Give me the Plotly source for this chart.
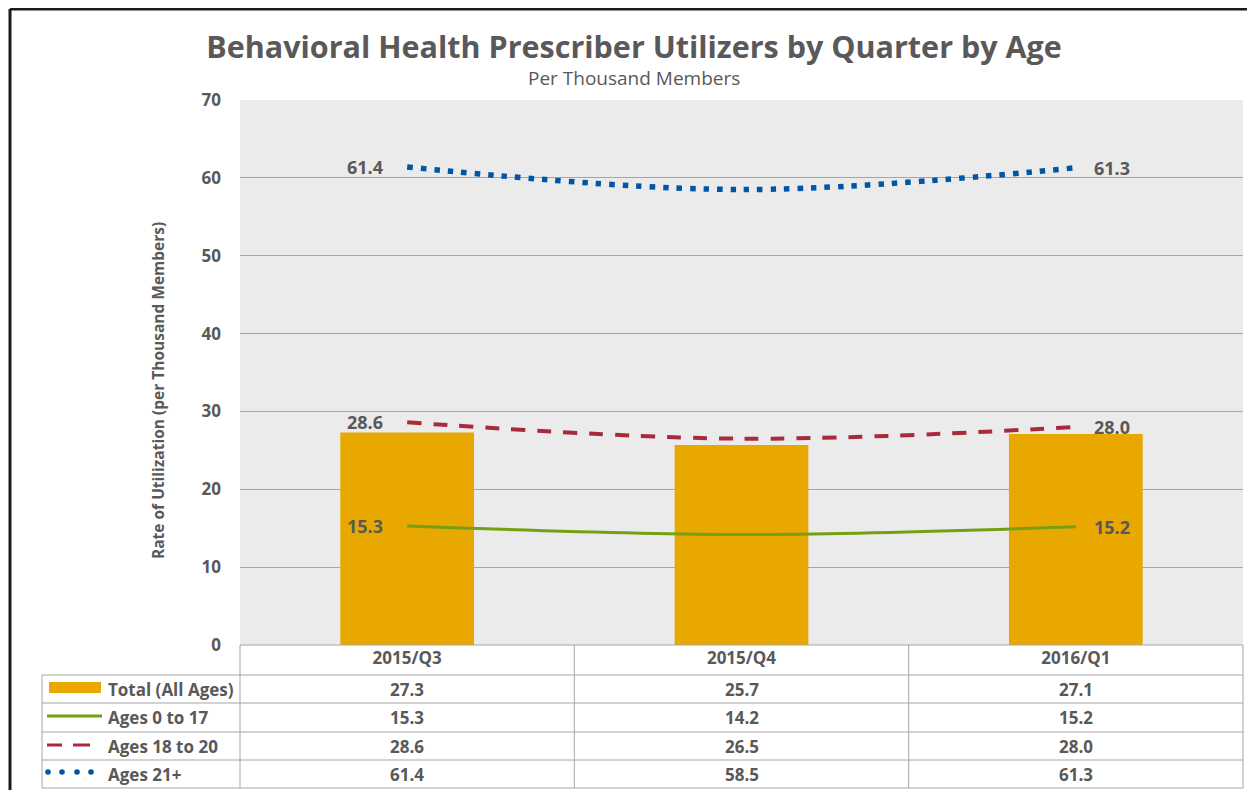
import plotly.graph_objects as go

categories = ["2015/Q3", "2015/Q4", "2016/Q1"]
total_all = [27.3, 25.7, 27.1]
ages_0_17 = [15.3, 14.2, 15.2]
ages_18_20 = [28.6, 26.5, 28.0]
ages_21p = [61.4, 58.5, 61.3]
series_names = ["Total (All Ages)", "Ages 0 to 17", "Ages 18 to 20", "Ages 21+"]
y_ticks = [0, 10, 20, 30, 40, 50, 60, 70]

OFF = 8  # page body margin
W, H = 1255 - OFF, 790 - OFF
L, R, T, B = 240 - OFF, 12, 100 - OFF, 145
PW, PH = W - L - R, H - T - B

def px(x):
    return (x - OFF - L) / PW

def py(y):
    return (H - B - (y - OFF)) / PH

FONT = "Open Sans"
GRAY = "#595959"
C_BAR = "#E8A800"
C_GREEN = "#76A013"
C_RED = "#A82A3B"
C_BLUE = "#0055A5"

fig = go.Figure()
fig.add_trace(go.Bar(x=categories, y=total_all, name=series_names[0],
                     marker=dict(color=C_BAR, line=dict(width=0)), width=0.4))

line_series = [
    (ages_0_17, series_names[1], C_GREEN, "solid", 3),
    (ages_18_20, series_names[2], C_RED, "14px,12px", 4),
    (ages_21p, series_names[3], C_BLUE, "5.5px,8px", 5.5),
]
annotations = []
for vals, name, color, dash, width in line_series:
    fig.add_trace(go.Scatter(
        x=categories, y=vals, name=name, mode="lines",
        line=dict(color=color, dash=dash, width=width, shape="spline", smoothing=1),
    ))
    annotations.append(dict(xref="x", yref="y", x=categories[0], y=vals[0],
                            xanchor="right", yanchor="middle", xshift=-22, showarrow=False,
                            text=f"{vals[0]:.1f}",
                            font=dict(family=FONT, size=18, color=GRAY, weight="bold")))
    annotations.append(dict(xref="x", yref="y", x=categories[-1], y=vals[-1],
                            xanchor="left", yanchor="middle", xshift=16, showarrow=False,
                            text=f"{vals[-1]:.1f}",
                            font=dict(family=FONT, size=18, color=GRAY, weight="bold")))

shapes = []
line_c = "#A6A6A6"
for yy in [675, 703, 732, 760, 788]:
    shapes.append(dict(type="line", xref="paper", yref="paper", x0=px(42), x1=1,
                       y0=py(yy), y1=py(yy), line=dict(color=line_c, width=1)))
shapes.append(dict(type="line", xref="paper", yref="paper", x0=0, x1=1,
                   y0=0, y1=0, line=dict(color=line_c, width=1)))
for xx in [0, 1 / 3, 2 / 3, 1]:
    shapes.append(dict(type="line", xref="paper", yref="paper", x0=xx, x1=xx,
                       y0=0, y1=py(788), line=dict(color=line_c, width=1)))
shapes.append(dict(type="line", xref="paper", yref="paper", x0=px(42), x1=px(42),
                   y0=py(675), y1=py(788), line=dict(color=line_c, width=1)))
# legend keys
shapes.append(dict(type="rect", xref="paper", yref="paper", x0=px(49), x1=px(101),
                   y0=py(693), y1=py(682), fillcolor=C_BAR, line=dict(width=0)))
shapes.append(dict(type="line", xref="paper", yref="paper", x0=px(47), x1=px(102),
                   y0=py(716), y1=py(716), line=dict(color=C_GREEN, width=3)))
for a, b in [(47, 62), (73, 90)]:
    shapes.append(dict(type="line", xref="paper", yref="paper", x0=px(a), x1=px(b),
                       y0=py(745), y1=py(745), line=dict(color=C_RED, width=3)))
for cx in [48, 62, 77, 91]:
    shapes.append(dict(type="circle", xref="paper", yref="paper",
                       x0=px(cx - 2.8), x1=px(cx + 2.8), y0=py(774.8), y1=py(769.2),
                       fillcolor=C_BLUE, line=dict(width=0)))
# outer frame
shapes.append(dict(type="line", xref="paper", yref="paper", x0=px(10), x1=px(10),
                   y0=py(9), y1=py(800), line=dict(color="#1a1a1a", width=3)))
shapes.append(dict(type="line", xref="paper", yref="paper", x0=px(10), x1=px(1270),
                   y0=py(9), y1=py(9), line=dict(color="#1a1a1a", width=3)))

row_y = [689, 717.5, 746, 774]
all_series = [total_all, ages_0_17, ages_18_20, ages_21p]
for ry, name, vals in zip(row_y, series_names, all_series):
    annotations.append(dict(xref="paper", yref="paper", x=px(106), y=py(ry),
                            xanchor="left", yanchor="middle", showarrow=False, text=name,
                            font=dict(family=FONT, size=17, color=GRAY, weight="bold")))
    for c, v in zip(categories, vals):
        annotations.append(dict(xref="x", yref="paper", x=c, y=py(ry),
                                xanchor="center", yanchor="middle", showarrow=False,
                                text=f"{v:.1f}",
                                font=dict(family=FONT, size=17, color=GRAY, weight="bold")))
annotations.append(dict(xref="paper", yref="paper", x=px(634), y=py(78),
                        xanchor="center", yanchor="middle", showarrow=False,
                        text="Per Thousand Members",
                        font=dict(family=FONT, size=19, color=GRAY)))
annotations.append(dict(xref="paper", yref="paper", x=px(158), y=py(391),
                        xanchor="center", yanchor="middle", showarrow=False, textangle=-90,
                        text="Rate of Utilization (per Thousand Members)",
                        font=dict(family=FONT, size=15.5, color=GRAY, weight="bold")))

fig.update_layout(
    width=W, height=H,
    margin=dict(l=L, r=R, t=T, b=B),
    paper_bgcolor="white", plot_bgcolor="#EBEBEB",
    showlegend=False,
    title=dict(text="Behavioral Health Prescriber Utilizers by Quarter by Age",
               x=(634 - OFF) / W, xanchor="center", y=1 - (47 - OFF) / H, yanchor="middle",
               font=dict(family=FONT, size=30.5, color=GRAY, weight="bold")),
    xaxis=dict(type="category", showgrid=False, ticks="", showline=False,
               tickfont=dict(family=FONT, size=17, color=GRAY, weight="bold"),
               ticklabelstandoff=1),
    yaxis=dict(range=[0, 70], tickvals=y_ticks, showgrid=True, gridcolor="#A6A6A6",
               gridwidth=1, zeroline=False, showline=False, ticks="",
               tickfont=dict(family=FONT, size=17, color=GRAY, weight="bold"),
               ticklabelstandoff=18),
    shapes=shapes, annotations=annotations, bargap=0.6,
)

fig.write_html("out.html")
